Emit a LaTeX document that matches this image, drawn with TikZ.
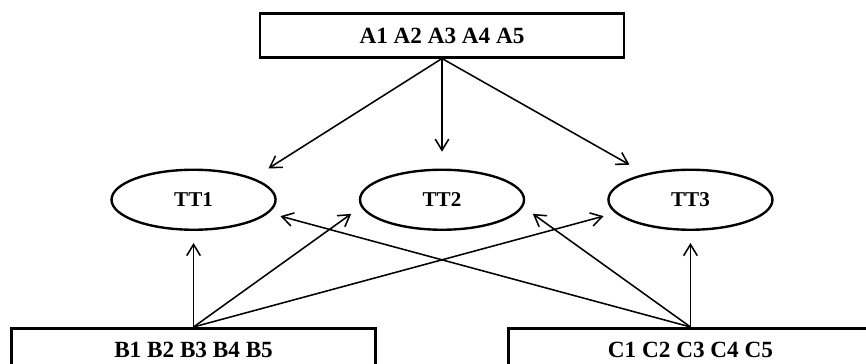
\documentclass[tikz,border=0pt]{standalone}
\usepackage{fontspec}
\setmainfont{Liberation Serif}
\usetikzlibrary{arrows.meta, positioning, shapes.geometric}

\begin{document}
\begin{tikzpicture}[
  x=0.025cm, y=-0.025cm,
  every node/.style={font=\fontsize{15}{18}\selectfont\bfseries},
  box/.style={draw, rectangle, line width=2pt, minimum width=9.1cm, minimum height=1.08cm, align=center, font=\fontsize{16.5}{19}\selectfont\bfseries},
  oval/.style={draw, ellipse, line width=1.7pt, minimum width=4.1cm, minimum height=1.5cm, inner sep=0pt},
  arrow/.style={-{Straight Barb[length=2.8mm,width=3.4mm]}, line width=1.1pt, shorten >=0.3cm}
]
\useasboundingbox (0,0) rectangle (866,363);

% Top box
\node[box] (abox) at (442,35.5) {A1 A2 A3 A4 A5};

% Middle row
\node[oval, below=2.75cm of abox] (tt2) {TT2};
\node[oval, left=2.05cm of tt2] (tt1) {TT1};
\node[oval, right=2.05cm of tt2] (tt3) {TT3};

% Bottom row (cut by the page edge)
\node[box, minimum height=1.1cm, below=2.4cm of tt1] (bbox) {B1 B2 B3 B4 B5};
\node[box, minimum height=1.1cm, below=2.4cm of tt3] (cbox) {C1 C2 C3 C4 C5};

% Arrows from top box
\draw[arrow, shorten >=0.45cm] (abox.south) -- (tt1.20);
\draw[arrow, shorten >=0.42cm] (abox.south) -- (tt2.north);
\draw[arrow, shorten >=0.45cm] (abox.south) -- (tt3.150);

% Arrows from bottom boxes
\draw[arrow] (bbox.north) -- (tt1.south);
\draw[arrow] (bbox.north) -- (tt2.185);
\draw[arrow] (bbox.north) -- (tt3.190);
\draw[arrow] (cbox.north) -- (tt1.350);
\draw[arrow] (cbox.north) -- (tt2.355);
\draw[arrow] (cbox.north) -- (tt3.south);

\end{tikzpicture}
\end{document}
